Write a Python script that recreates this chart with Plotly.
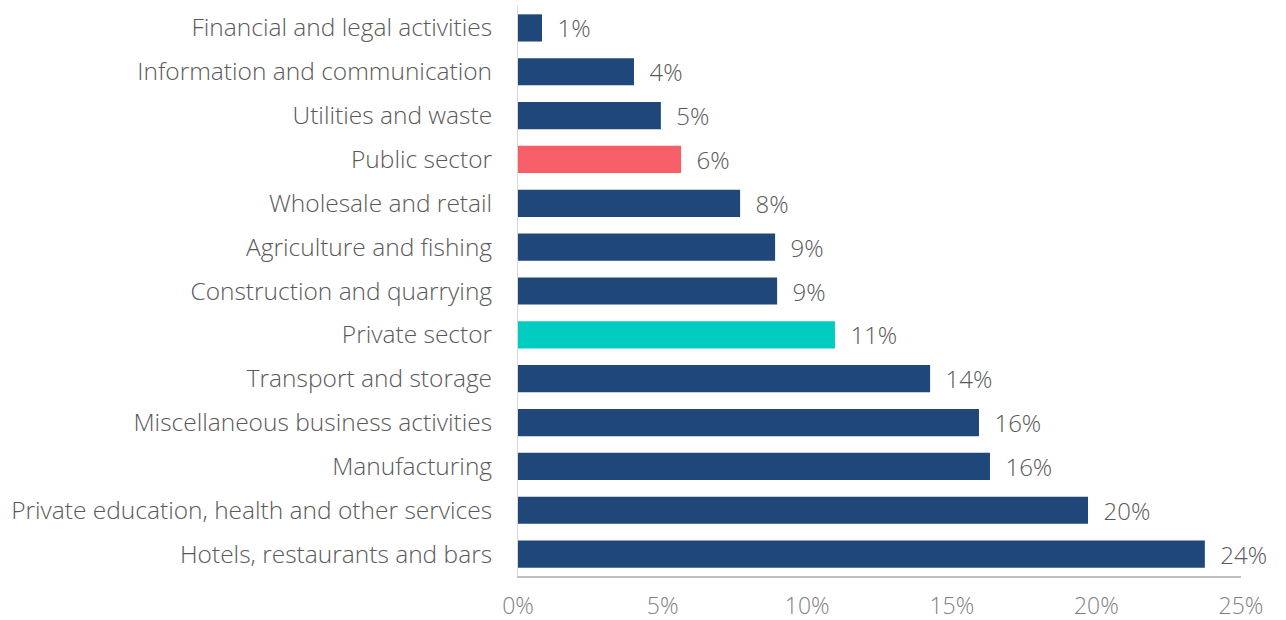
import plotly.graph_objects as go

categories = [
    "Financial and legal activities",
    "Information and communication",
    "Utilities and waste",
    "Public sector",
    "Wholesale and retail",
    "Agriculture and fishing",
    "Construction and quarrying",
    "Private sector",
    "Transport and storage",
    "Miscellaneous business activities",
    "Manufacturing",
    "Private education, health and other services",
    "Hotels, restaurants and bars",
]
values = [0.83, 4.01, 4.94, 5.64, 7.68, 8.89, 8.96, 10.96, 14.25, 15.94, 16.32, 19.71, 23.75]
highlight = {"Public sector": "#F65F68", "Private sector": "#00CCBF"}
base_color = "#1F4779"
tick_vals = [0, 5, 10, 15, 20, 25]
tick_text = ["0%", "5%", "10%", "15%", "20%", "25%"]

colors = [highlight.get(c, base_color) for c in categories]
FONT = "Open Sans"

fig = go.Figure(go.Bar(
    y=categories,
    x=values,
    orientation="h",
    marker=dict(color=colors, line=dict(width=0)),
    width=0.62,
    text=[f"{v:.0f}%" for v in values],
    texttemplate="  %{text}",
    textposition="outside",
    constraintext="none",
    textfont=dict(family=FONT, size=24, color="#595959", weight=300),
    cliponaxis=False,
))

fig.update_layout(
    width=1286, height=620,
    margin=dict(l=518, r=45, t=6, b=44),
    paper_bgcolor="white", plot_bgcolor="white",
    showlegend=False,
    font=dict(family=FONT, weight=300),
    xaxis=dict(
        range=[0, 25], tickvals=tick_vals, ticktext=tick_text,
        showgrid=False, zeroline=False, automargin=False,
        showline=True, linecolor="#BFBFBF", linewidth=2,
        ticks="", ticklabelstandoff=8,
        tickfont=dict(family=FONT, size=23, color="#7F7F7F", weight=300),
    ),
    yaxis=dict(
        autorange="reversed", automargin=False,
        showgrid=False, zeroline=False,
        showline=True, linecolor="#D9D9D9", linewidth=1,
        ticks="", ticklabelstandoff=20,
        tickfont=dict(family=FONT, size=24.5, color="#595959", weight=300),
    ),
)

fig.write_html("out.html", config={"displayModeBar": False},
               post_script="document.body.style.margin='0';")
